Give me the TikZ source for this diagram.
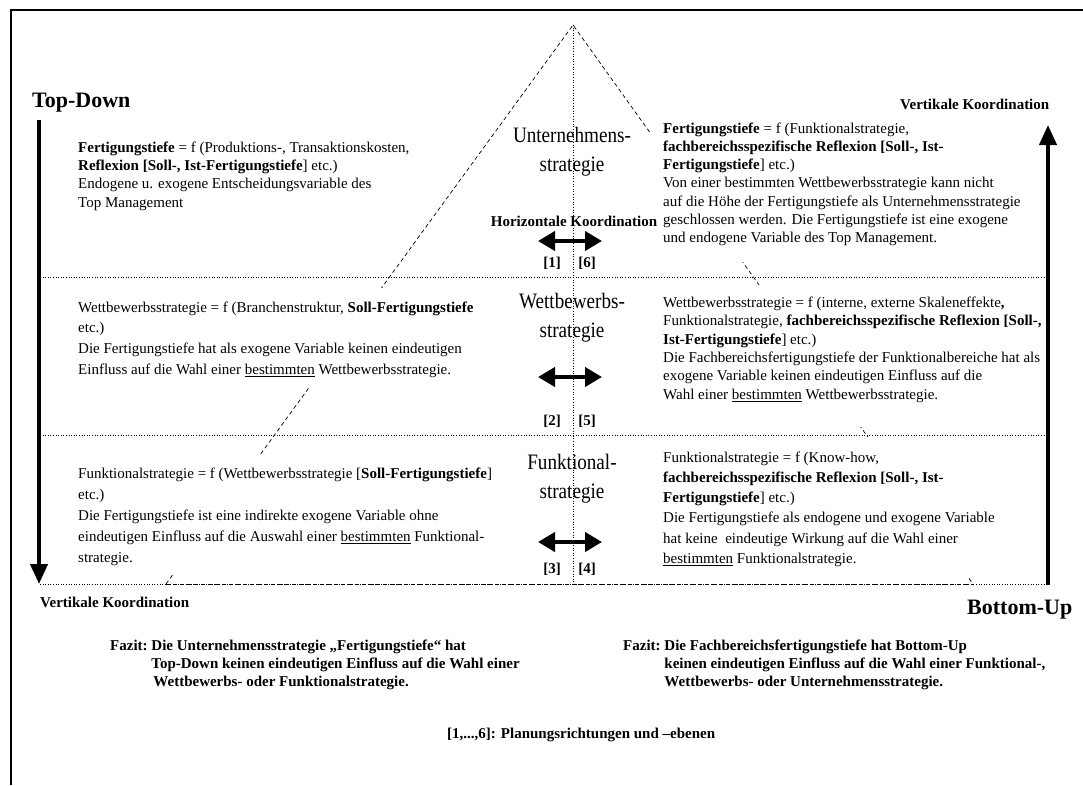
\documentclass[tikz,border=0pt]{standalone}
\usepackage{fontspec}
\setmainfont{Liberation Serif}
\newfontfamily\condfont[FakeStretch=0.87]{Liberation Serif}
\usetikzlibrary{arrows.meta}
\tikzset{
  body/.style={anchor=north west, inner sep=0pt, align=left},
  bigtxt/.style={inner sep=0pt, align=center, anchor=north, font=\condfont\fontsize{22}{29}\selectfont},
  bbold/.style={inner sep=0pt, font=\bfseries\fontsize{15}{18}\selectfont},
  huge/.style={inner sep=0pt, anchor=base west, font=\bfseries\fontsize{22}{26}\selectfont},
  pyr/.style={dash pattern=on 4pt off 3pt, line width=0.7pt},
  lvl/.style={dotted, line width=0.6pt},
  harrow/.style={line width=4pt, {Triangle[length=17pt,width=19pt]}-{Triangle[length=17pt,width=19pt]}},
  varrow/.style={line width=4pt, -{Triangle[length=20pt,width=17pt]}},
  frame/.style={line width=2pt},
}
\begin{document}
\begin{tikzpicture}[x=1pt,y=-1pt]
\useasboundingbox (0,0) rectangle (1083,785);
% frame
\coordinate (fb) at (11,785);
\coordinate (fc) at (11,10);
\coordinate (fr) at (1083,10);
\draw[frame] (fb) -- (fc) -- (fr);
% pyramid
\coordinate (apex) at (573,25);
\coordinate (pl) at (166,584);
\coordinate (pr) at (973,584);
\draw[pyr] (pl) -- (apex) -- (pr);
% covers (text boxes)
\fill[white] (70,288) rectangle (500,386);
\fill[white] (70,455) rectangle (500,574);
\fill[white] (650,120) rectangle (1040,262);
\fill[white] (650,285) rectangle (1040,427);
\fill[white] (650,437) rectangle (1040,578);
% level lines
\coordinate (l1a) at (40,277);  \coordinate (l1b) at (1046,277);
\coordinate (l2a) at (40,435);  \coordinate (l2b) at (1046,435);
\coordinate (l3a) at (40,584);  \coordinate (l3b) at (1046,584);
\draw[lvl] (l1a) -- (l1b);
\draw[lvl] (l2a) -- (l2b);
\draw[lvl] (l3a) -- (l3b);
\draw[pyr] (pl) -- (pr);
\coordinate (vbot) at (573,584);
\draw[lvl] (apex) -- (vbot);
% vertical arrows
\coordinate (tdA) at (39,120); \coordinate (tdB) at (39,584);
\draw[varrow] (tdA) -- (tdB);
\coordinate (buA) at (1048,585); \coordinate (buB) at (1048,125);
\draw[varrow] (buA) -- (buB);
% horizontal arrows
\coordinate (h1a) at (538,241); \coordinate (h1b) at (602,241);
\coordinate (h2a) at (538,377); \coordinate (h2b) at (602,377);
\coordinate (h3a) at (538,542); \coordinate (h3b) at (602,542);
\draw[harrow] (h1a) -- (h1b);
\draw[harrow] (h2a) -- (h2b);
\draw[harrow] (h3a) -- (h3b);
% big labels
\node[bigtxt] (s1) at (572,124) {\rule{0pt}{18pt}Unternehmens-\\strategie};
\node[bigtxt] (s2) at (572,290) {\rule{0pt}{18pt}Wettbewerbs-\\strategie};
\node[bigtxt] (s3) at (572,451) {\rule{0pt}{18pt}Funktional-\\strategie};
% headings
\node[huge] (td) at (32,107) {Top-Down};
\node[huge] (bu) at (967,614) {Bottom-Up};
\node[bbold, anchor=base west] (vk1) at (900,109) {Vertikale Koordination};
\node[bbold, anchor=base west] (vk2) at (40,607) {Vertikale Koordination};
\node[bbold, anchor=base] (hk) at (574,226) {Horizontale Koordination};
\node[bbold, anchor=base] (n1) at (552,267) {[1]};
\node[bbold, anchor=base] (n6) at (587,267) {[6]};
\node[bbold, anchor=base] (n2) at (552,425) {[2]};
\node[bbold, anchor=base] (n5) at (587,425) {[5]};
\node[bbold, anchor=base] (n3) at (552,573) {[3]};
\node[bbold, anchor=base] (n4) at (587,573) {[4]};
% left texts
\node[body, font=\fontsize{15}{18.3}\selectfont] (L1) at (78,140) {\rule{0pt}{12pt}\textbf{Fertigungstiefe} = f (Produktions-, Transaktionskosten,\\
\textbf{Reflexion [Soll-, Ist-Fertigungstiefe}] etc.)\\
Endogene u. exogene Entscheidungsvariable des\\
Top Management};
\node[body, font=\fontsize{15}{20.7}\selectfont] (L2) at (78,300) {\rule{0pt}{12pt}Wettbewerbsstrategie = f (Branchenstruktur, \textbf{Soll-Fertigungstiefe}\\
etc.)\\
Die Fertigungstiefe hat als exogene Variable keinen eindeutigen\\
Einfluss auf die Wahl einer \underline{bestimmten} Wettbewerbsstrategie.};
\node[body, font=\fontsize{15}{21}\selectfont] (L3) at (78,466) {\rule{0pt}{12pt}Funktionalstrategie = f (Wettbewerbsstrategie [\textbf{Soll-Fertigungstiefe}]\\
etc.)\\
Die Fertigungstiefe ist eine indirekte exogene Variable ohne\\
eindeutigen Einfluss auf die Auswahl einer \underline{bestimmten} Funktional-\\
strategie.};
% right texts
\node[body, font=\fontsize{15}{18.2}\selectfont] (R1) at (663,121) {\rule{0pt}{12pt}\textbf{Fertigungstiefe} = f (Funktionalstrategie,\\
\textbf{fachbereichsspezifische Reflexion [Soll-, Ist-}\\
\textbf{Fertigungstiefe}] etc.)\\
Von einer bestimmten Wettbewerbsstrategie kann nicht\\
auf die Höhe der Fertigungstiefe als Unternehmensstrategie\\
geschlossen werden. Die Fertigungstiefe ist eine exogene\\
und endogene Variable des Top Management.};
\node[body, font=\fontsize{15}{18.4}\selectfont] (R2) at (663,295) {\rule{0pt}{12pt}Wettbewerbsstrategie = f (interne, externe Skaleneffekte\textbf{,}\\
Funktionalstrategie, \textbf{fachbereichsspezifische Reflexion [Soll-,}\\
\textbf{Ist-Fertigungstiefe}] etc.)\\
Die Fachbereichsfertigungstiefe der Funktionalbereiche hat als\\
exogene Variable keinen eindeutigen Einfluss auf die\\
Wahl einer \underline{bestimmten} Wettbewerbsstrategie.};
\node[body, font=\fontsize{15}{20.2}\selectfont] (R3) at (663,450) {\rule{0pt}{12pt}Funktionalstrategie = f (Know-how,\\
\textbf{fachbereichsspezifische Reflexion [Soll-, Ist-}\\
\textbf{Fertigungstiefe}] etc.)\\
Die Fertigungstiefe als endogene und exogene Variable\\
hat keine\ \ eindeutige Wirkung auf die Wahl einer\\
\underline{bestimmten} Funktionalstrategie.};
% conclusions
\node[body, font=\bfseries\fontsize{15}{18}\selectfont] (fz1) at (110,637.4) {\begin{tabular}{@{}l@{\ }l@{}}
Fazit: & Die Unternehmensstrategie „Fertigungstiefe“ hat\\
 & Top-Down keinen eindeutigen Einfluss auf die Wahl einer\\
 & \hspace{2pt}Wettbewerbs- oder Funktionalstrategie.
\end{tabular}};
\node[body, font=\bfseries\fontsize{15}{18}\selectfont] (fz2) at (623,637.4) {\begin{tabular}{@{}l@{\ }l@{}}
Fazit: & Die Fachbereichsfertigungstiefe hat Bottom-Up\\
 & keinen eindeutigen Einfluss auf die Wahl einer Funktional-,\\
 & Wettbewerbs- oder Unternehmensstrategie.
\end{tabular}};
\node[bbold, anchor=base west] (leg) at (447,738) {[1,...,6]: Planungsrichtungen und –ebenen};
\end{tikzpicture}
\end{document}
